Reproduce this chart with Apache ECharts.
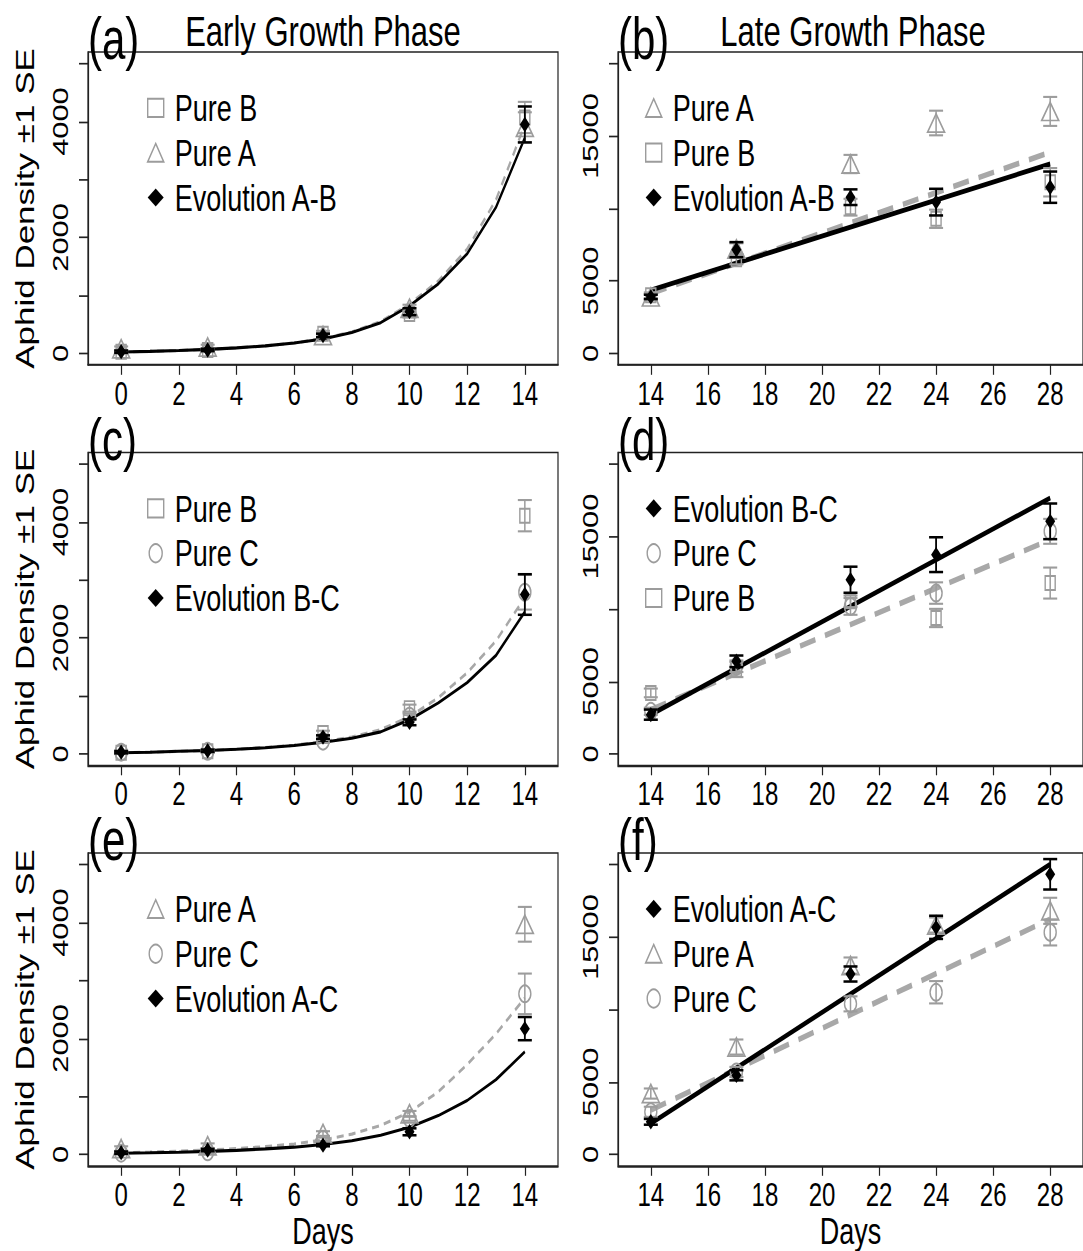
<!DOCTYPE html>
<html>
<head>
<meta charset="utf-8">
<title>Aphid density</title>
<script src="https://cdn.jsdelivr.net/npm/echarts@6/dist/echarts.min.js"></script>
<style>
  html, body { margin: 0; padding: 0; background: #fff; width: 1083px; height: 1251px; }
  /* the original figure is stretched vertically, so draw it flat and stretch it */
  #chart { width: 1083px; height: 893.57px; transform: scaleY(1.4); transform-origin: 0 0; }
</style>
</head>
<body>
<div id="chart"></div>
<script>
const S = 1.4
const sy = v => v / S

// days
const earlyDays = [0, 3, 7, 10, 14]
const lateDays = [14, 17, 21, 24, 28]
const earlyFitDays = [0, 1, 2, 3, 4, 5, 6, 7, 8, 9, 10, 11, 12, 13, 14]
const lateFitDays = [14, 28]

// ticks / labels
const earlyXTicks = [0, 2, 4, 6, 8, 10, 12, 14]
const lateXTicks = [14, 16, 18, 20, 22, 24, 26, 28]
const earlyYTicks = [0, 1000, 2000, 3000, 4000, 5000]
const earlyYLabels = [0, 2000, 4000]
const lateYTicks = [0, 5000, 10000, 15000, 20000]
const lateYLabels = [0, 5000, 15000]

// (a) early, A-B
const aPureB = [30, 60, 340, 680, 4070]
const aPureBSe = [30, 30, 50, 60, 270]
const aPureA = [80, 110, 310, 780, 3900]
const aPureASe = [40, 40, 40, 60, 260]
const aEvo = [30, 60, 310, 720, 3950]
const aEvoSe = [20, 20, 30, 60, 310]
const aEvoFit = [25, 35, 50, 70, 95, 130, 180, 250, 360, 530, 820, 1200, 1720, 2520, 3720]
const aPureFit = [25, 35, 50, 70, 95, 130, 180, 255, 370, 550, 850, 1250, 1800, 2650, 3950]

// (b) late, A-B
const bPureA = [3900, 7200, 13070, 15900, 16700]
const bPureASe = [200, 400, 630, 850, 1000]
const bPureB = [4010, 6500, 10090, 9290, 11810]
const bPureBSe = [200, 350, 580, 630, 980]
const bEvo = [3900, 7160, 10780, 10440, 11470]
const bEvoSe = [150, 520, 540, 920, 1080]
const bEvoFit = [4360, 13070]
const bPureFit = [4130, 13880]

// (c) early, B-C
const cPureB = [20, 45, 360, 790, 4110]
const cPureBSe = [20, 20, 40, 60, 270]
const cPureC = [30, 45, 220, 650, 2790]
const cPureCSe = [20, 20, 30, 50, 300]
const cEvo = [30, 55, 290, 545, 2750]
const cEvoSe = [20, 20, 30, 50, 350]
const cEvoFit = [20, 30, 45, 60, 80, 105, 145, 200, 270, 380, 590, 880, 1230, 1700, 2450]
const cPureFit = [20, 30, 45, 60, 80, 110, 150, 210, 290, 420, 640, 970, 1400, 1950, 2700]

// (d) late, B-C
const dEvo = [2710, 6390, 12020, 13750, 16050]
const dEvoSe = [350, 400, 900, 1200, 1230]
const dPureC = [2940, 6050, 10180, 11100, 15360]
const dPureCSe = [250, 400, 580, 740, 860]
const dPureB = [4210, 5820, 10530, 9380, 11790]
const dPureBSe = [300, 520, 400, 630, 1070]
const dEvoFit = [2710, 17660]
const dPureFit = [3060, 14780]

// (e) early, A-C
const ePureA = [100, 150, 360, 700, 3970]
const ePureASe = [40, 40, 40, 50, 300]
const ePureC = [20, 45, 260, 620, 2770]
const ePureCSe = [20, 20, 30, 40, 350]
const eEvo = [30, 75, 160, 390, 2170]
const eEvoSe = [20, 20, 20, 60, 200]
const eEvoFit = [20, 28, 38, 52, 70, 95, 125, 170, 235, 330, 470, 670, 930, 1290, 1770]
const ePureFit = [30, 40, 55, 75, 100, 135, 180, 250, 350, 500, 730, 1080, 1550, 2080, 2700]

// (f) late, A-C
const fEvo = [2250, 5460, 12450, 15670, 19330]
const fEvoSe = [200, 350, 520, 800, 1050]
const fPureA = [4200, 7410, 13030, 15830, 16810]
const fPureASe = [350, 520, 560, 520, 900]
const fPureC = [2940, 5690, 10390, 11190, 15320]
const fPureCSe = [350, 350, 520, 770, 900]
const fEvoFit = [2130, 20020]
const fPureFit = [3050, 16240]

const panels = [
  { letter: '(a)', row: 0, col: 0, title: 'Early Growth Phase',
    groups: [['Pure B', aPureB, aPureBSe], ['Pure A', aPureA, aPureASe], ['Evolution A-B', aEvo, aEvoSe]],
    evoFit: aEvoFit, pureFit: aPureFit },
  { letter: '(b)', row: 0, col: 1, title: 'Late Growth Phase',
    groups: [['Pure A', bPureA, bPureASe], ['Pure B', bPureB, bPureBSe], ['Evolution A-B', bEvo, bEvoSe]],
    evoFit: bEvoFit, pureFit: bPureFit },
  { letter: '(c)', row: 1, col: 0,
    groups: [['Pure B', cPureB, cPureBSe], ['Pure C', cPureC, cPureCSe], ['Evolution B-C', cEvo, cEvoSe]],
    evoFit: cEvoFit, pureFit: cPureFit },
  { letter: '(d)', row: 1, col: 1,
    groups: [['Evolution B-C', dEvo, dEvoSe], ['Pure C', dPureC, dPureCSe], ['Pure B', dPureB, dPureBSe]],
    evoFit: dEvoFit, pureFit: dPureFit },
  { letter: '(e)', row: 2, col: 0,
    groups: [['Pure A', ePureA, ePureASe], ['Pure C', ePureC, ePureCSe], ['Evolution A-C', eEvo, eEvoSe]],
    evoFit: eEvoFit, pureFit: ePureFit },
  { letter: '(f)', row: 2, col: 1,
    groups: [['Evolution A-C', fEvo, fEvoSe], ['Pure A', fPureA, fPureASe], ['Pure C', fPureC, fPureCSe]],
    evoFit: fEvoFit, pureFit: fPureFit }
]

// layout in picture pixels (y gets divided by S)
const FONT = '"Liberation Sans", Arial, Helvetica, sans-serif'
const GREY = '#9c9c9c'
const colLeft = [88, 618]
const boxW = 470
const rowTop = [52, 452.5, 853]
const boxH = 313

const markerFor = name => {
  if (name.startsWith('Evolution')) return { symbol: 'diamond', size: [10, 11], color: '#000', fill: '#000' }
  if (name === 'Pure A') return { symbol: 'triangle', size: [17, 13], color: GREY, fill: 'transparent' }
  if (name === 'Pure B') return { symbol: 'rect', size: [10, 10], color: GREY, fill: 'transparent' }
  return { symbol: 'circle', size: [12, 12], color: GREY, fill: 'transparent' }
}

const errorBar = (color, width) => (params, api) => {
  const x = api.value(0)
  const m = api.value(1)
  const s = api.value(2)
  const hi = api.coord([x, m + s])
  const lo = api.coord([x, m - s])
  const cap = 7
  const style = { stroke: color, lineWidth: width, fill: null }
  return {
    type: 'group',
    children: [
      { type: 'line', shape: { x1: hi[0], y1: hi[1], x2: lo[0], y2: lo[1] }, style },
      { type: 'line', shape: { x1: hi[0] - cap, y1: hi[1], x2: hi[0] + cap, y2: hi[1] }, style },
      { type: 'line', shape: { x1: lo[0] - cap, y1: lo[1], x2: lo[0] + cap, y2: lo[1] }, style }
    ]
  }
}

const grid = []
const xAxis = []
const yAxis = []
const series = []
const legend = []
const graphic = []

panels.forEach((p, i) => {
  const early = p.col === 0
  const days = early ? earlyDays : lateDays
  const fitDays = early ? earlyFitDays : lateFitDays
  const axisLine = { show: true, onZero: false, lineStyle: { color: '#222', width: 1.2 } }

  grid.push({
    left: colLeft[p.col], top: sy(rowTop[p.row]), width: boxW, height: sy(boxH),
    show: true, borderColor: '#222', borderWidth: 1.2, backgroundColor: 'transparent'
  })

  xAxis.push({
    gridIndex: i, type: 'value',
    min: early ? -1.15 : 12.85, max: early ? 15.15 : 29.15,
    axisLine,
    axisTick: { show: true, length: 7, customValues: early ? earlyXTicks : lateXTicks, lineStyle: { color: '#222', width: 1.2 } },
    axisLabel: { customValues: early ? earlyXTicks : lateXTicks, margin: 8, fontSize: 24, color: '#000', fontFamily: FONT },
    splitLine: { show: false },
    name: p.row === 2 ? 'Days' : '', nameLocation: 'middle', nameGap: 31,
    nameTextStyle: { fontSize: 27, color: '#000', fontFamily: FONT }
  })

  yAxis.push({
    gridIndex: i, type: 'value',
    min: early ? -200 : -800, max: early ? 5200 : 20800,
    axisLine,
    axisTick: { show: true, length: 9, customValues: early ? earlyYTicks : lateYTicks, lineStyle: { color: '#222', width: 1.2 } },
    axisLabel: {
      customValues: early ? earlyYLabels : lateYLabels, rotate: 90, margin: 16,
      fontSize: 22, color: '#000', fontFamily: FONT, formatter: v => String(v)
    },
    splitLine: { show: false },
    name: early ? 'Aphid Density \u00b11 SE' : '', nameLocation: 'middle', nameGap: 51,
    nameTextStyle: { fontSize: 25, color: '#000', fontFamily: FONT }
  })

  // fitted curves
  series.push({
    name: 'pure fit ' + p.letter, type: 'line', xAxisIndex: i, yAxisIndex: i,
    data: fitDays.map((d, k) => [d, p.pureFit[k]]),
    showSymbol: false, symbol: 'none', silent: true, z: 2,
    lineStyle: early ? { color: '#a8a8a8', width: 2.2, type: [7, 5] } : { color: '#a8a8a8', width: 4, type: [16, 10] }
  })
  series.push({
    name: 'evolution fit ' + p.letter, type: 'line', xAxisIndex: i, yAxisIndex: i,
    data: fitDays.map((d, k) => [d, p.evoFit[k]]),
    showSymbol: false, symbol: 'none', silent: true, z: 3,
    lineStyle: { color: '#000', width: early ? 2.2 : 3.5 }
  })

  // grey groups first, black on top
  const ordered = p.groups.slice().sort((g1, g2) => (g1[0].startsWith('Evolution') ? 1 : 0) - (g2[0].startsWith('Evolution') ? 1 : 0))
  ordered.forEach(([name, mean, se]) => {
    const m = markerFor(name)
    const evo = name.startsWith('Evolution')
    series.push({
      name: name + ' SE ' + p.letter, type: 'custom', xAxisIndex: i, yAxisIndex: i,
      renderItem: errorBar(m.color, evo ? 1.8 : 1.5), silent: true, z: evo ? 5 : 4,
      encode: { x: 0, y: 1 },
      data: days.map((d, k) => [d, mean[k], se[k]])
    })
    series.push({
      name, type: 'scatter', xAxisIndex: i, yAxisIndex: i,
      symbol: m.symbol, symbolSize: m.size, silent: true, z: evo ? 6 : 4,
      itemStyle: { color: m.fill, borderColor: m.color, borderWidth: evo ? 0 : 1.4, opacity: 1 },
      data: days.map((d, k) => [d, mean[k]])
    })
  })

  // legend
  legend.push({
    orient: 'vertical', selectedMode: false,
    left: colLeft[p.col] + (early ? 54 : 22), top: sy(rowTop[p.row] + 30),
    itemWidth: 16, itemHeight: 13, itemGap: 5,
    textStyle: { fontSize: 27, lineHeight: 27, color: '#000', fontFamily: FONT, padding: [0, 0, 0, 6] },
    data: p.groups.map(([name]) => {
      const m = markerFor(name)
      return {
        name, icon: m.symbol,
        itemStyle: { color: m.fill, borderColor: m.color, borderWidth: name.startsWith('Evolution') ? 0 : 1.4 }
      }
    })
  })

  // panel letter and column title
  graphic.push({
    type: 'text', x: colLeft[p.col], y: sy(rowTop[p.row] - 52 + 39),
    style: { text: p.letter, font: '42px ' + FONT, fill: '#000', align: 'left', verticalAlign: 'middle' }
  })
  if (p.title) {
    graphic.push({
      type: 'text', x: colLeft[p.col] + boxW / 2, y: sy(31),
      style: { text: p.title, font: '31px ' + FONT, fill: '#000', align: 'center', verticalAlign: 'middle' }
    })
  }
})

const chart = echarts.init(document.getElementById('chart'), null, { renderer: 'svg' })
chart.setOption({
  backgroundColor: '#fff',
  animation: false,
  grid, xAxis, yAxis, series, legend, graphic
})
</script>
</body>
</html>
